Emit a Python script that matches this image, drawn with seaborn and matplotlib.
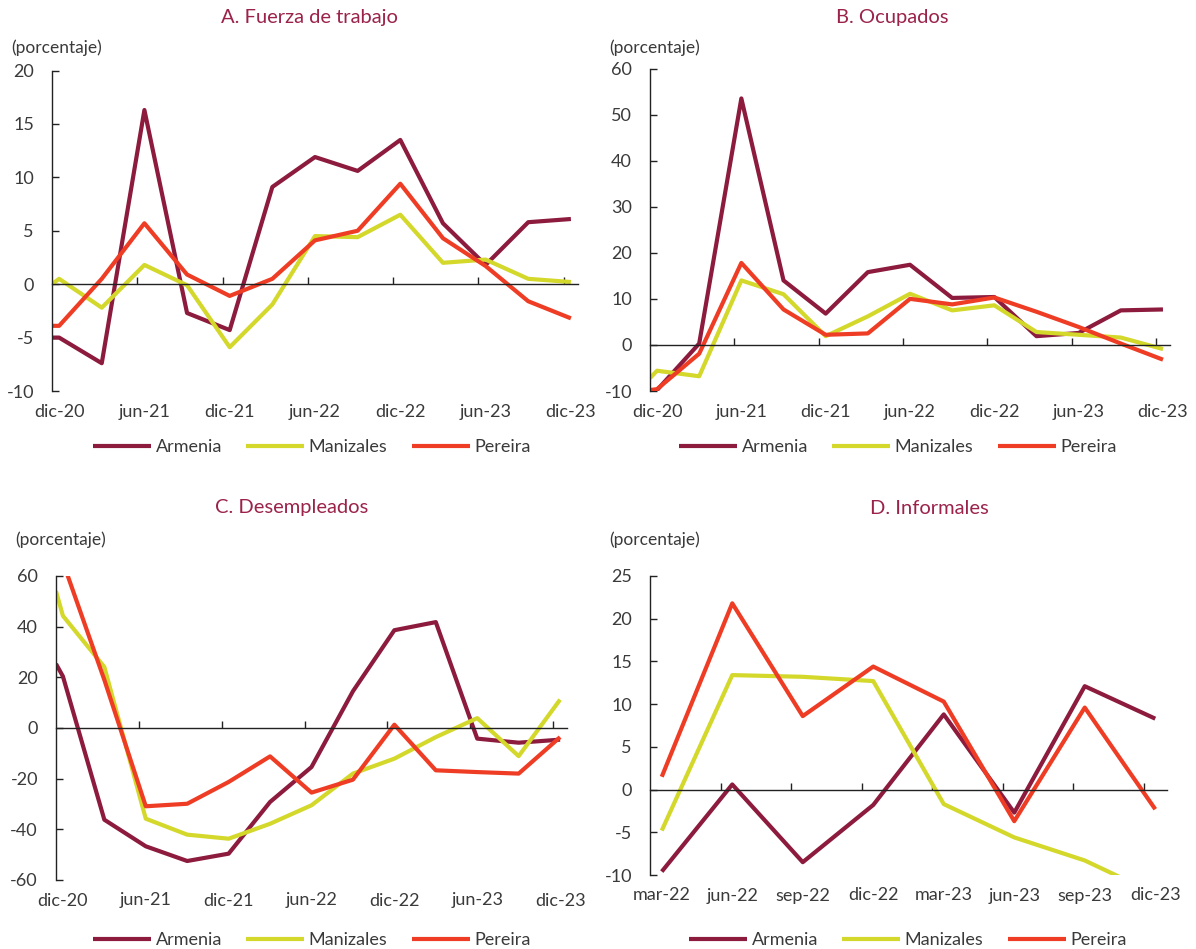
"""Variación anual de la fuerza laboral en el Eje Cafetero (cuatro paneles).
Run with: python plot.py
"""

import matplotlib
matplotlib.use("Agg")
import matplotlib.pyplot as plt
import pandas as pd
import seaborn as sns

# --- datos -------------------------------------------------------------
ciudades = ["Armenia", "Manizales", "Pereira"]
colores = {"Armenia": "#8c1b3e", "Manizales": "#d3d82b", "Pereira": "#ee3d24"}

# meses contados desde dic-20 (el primer punto arranca en el borde del eje)
meses_abc = [-0.5, 0, 3, 6, 9, 12, 15, 18, 21, 24, 27, 30, 33, 36]
etiquetas_abc = ["dic-20", "jun-21", "dic-21", "jun-22", "dic-22", "jun-23", "dic-23"]
pos_etiquetas_abc = [0, 6, 12, 18, 24, 30, 36]

# meses contados desde mar-22
meses_d = [0, 3, 6, 9, 12, 15, 18, 21]
etiquetas_d = ["mar-22", "jun-22", "sep-22", "dic-22", "mar-23", "jun-23", "sep-23", "dic-23"]
pos_etiquetas_d = [0, 3, 6, 9, 12, 15, 18, 21]

# A. Fuerza de trabajo
armenia_a = [-5.0, -5.0, -7.4, 16.3, -2.7, -4.3, 9.1, 11.9, 10.6, 13.5, 5.7, 1.8, 5.8, 6.1]
manizales_a = [0.0, 0.5, -2.2, 1.8, -0.1, -5.9, -1.9, 4.5, 4.4, 6.5, 2.0, 2.3, 0.5, 0.2]
pereira_a = [-3.9, -3.9, 0.5, 5.7, 0.9, -1.1, 0.5, 4.1, 5.0, 9.4, 4.3, 1.7, -1.6, -3.2]

# B. Ocupados
armenia_b = [-9.8, -9.8, 0.3, 53.5, 14.0, 6.8, 15.8, 17.4, 10.2, 10.4, 1.9, 2.6, 7.5, 7.7]
manizales_b = [-7.2, -5.6, -6.8, 14.0, 11.0, 1.9, 6.2, 11.1, 7.5, 8.6, 2.8, 2.2, 1.6, -0.9]
pereira_b = [-9.8, -9.6, -1.9, 17.8, 7.7, 2.2, 2.5, 10.0, 8.8, 10.3, 7.2, 3.9, 0.3, -3.2]

# C. Desempleados
armenia_c = [25.3, 20.4, -36.2, -46.7, -52.5, -49.6, -29.2, -15.4, 14.5, 38.6, 41.8, -4.2, -5.8, -4.6]
manizales_c = [54.0, 44.3, 24.1, -35.8, -42.1, -43.7, -37.8, -30.5, -18.0, -12.1, -3.6, 3.9, -11.1, 11.2]
pereira_c = [70.0, 65.5, 19.0, -30.9, -29.9, -21.3, -11.2, -25.5, -20.4, 1.3, -16.7, -17.4, -18.0, -3.6]

# D. Informales
armenia_d = [-9.6, 0.6, -8.5, -1.8, 8.8, -2.7, 12.1, 8.3]
manizales_d = [-4.8, 13.4, 13.2, 12.7, -1.7, -5.6, -8.3, -12.2]
pereira_d = [1.5, 21.8, 8.6, 14.4, 10.3, -3.7, 9.6, -2.3]

titulos = ["A. Fuerza de trabajo", "B. Ocupados", "C. Desempleados", "D. Informales"]


def tabla(meses, *series):
    filas = []
    for ciudad, valores in zip(ciudades, series):
        for m, v in zip(meses, valores):
            filas.append({"mes": m, "valor": v, "ciudad": ciudad})
    return pd.DataFrame(filas)


sns.set_theme(style="white")
plt.rcParams["font.family"] = ["Lato", "DejaVu Sans"]
plt.rcParams["axes.unicode_minus"] = False
GRIS = "#3a3a3a"
TITULO = "#9b2249"

W, H = 1196, 949
fig = plt.figure(figsize=(W / 100, H / 100), dpi=100)


def px(x0, y0, x1, y1):
    # caja en pixeles (arriba-izquierda) -> fracción de figura
    return [x0 / W, 1 - y1 / H, (x1 - x0) / W, (y1 - y0) / H]


paneles = [
    dict(caja=px(52, 70.5, 578, 391), df=tabla(meses_abc, armenia_a, manizales_a, pereira_a),
         ylim=(-10, 20), paso=5, xlim=(-0.5, 36.5), marcas=6,
         pos=pos_etiquetas_abc, etq=etiquetas_abc, titulo=(309, 17), unidad=(11, 48), leyenda=(312, 447)),
    dict(caja=px(650, 68.5, 1170, 391), df=tabla(meses_abc, armenia_b, manizales_b, pereira_b),
         ylim=(-10, 60), paso=10, xlim=(-0.5, 36.5), marcas=6,
         pos=pos_etiquetas_abc, etq=etiquetas_abc, titulo=(892, 17), unidad=(609, 48), leyenda=(898, 447)),
    dict(caja=px(56, 576, 567, 880), df=tabla(meses_abc, armenia_c, manizales_c, pereira_c),
         ylim=(-60, 60), paso=20, xlim=(-0.5, 36.5), marcas=6,
         pos=pos_etiquetas_abc, etq=etiquetas_abc, titulo=(292, 508), unidad=(15, 540), leyenda=(312, 940)),
    dict(caja=px(650, 576, 1167, 875), df=tabla(meses_d, armenia_d, manizales_d, pereira_d),
         ylim=(-10, 25), paso=5, xlim=(-0.5, 21.5), marcas=3,
         pos=pos_etiquetas_d, etq=etiquetas_d, titulo=(929, 508), unidad=(609, 540), leyenda=(908, 940)),
]

for p, titulo in zip(paneles, titulos):
    ax = fig.add_axes(p["caja"])
    sns.lineplot(data=p["df"], x="mes", y="valor", hue="ciudad", hue_order=ciudades,
                 palette=colores, linewidth=3, estimator=None, sort=False,
                 legend=False, ax=ax)
    for ln in ax.lines:
        ln.set_solid_joinstyle("round")
        ln.set_solid_capstyle("butt")

    ax.set_xlim(*p["xlim"])
    ax.set_ylim(*p["ylim"])
    lo, hi = p["ylim"]
    ax.set_yticks(range(lo, hi + 1, p["paso"]))
    ax.set_xticks([x + 0.5 for x in range(int(p["xlim"][0] - 0.5) + p["marcas"], int(p["xlim"][1]), p["marcas"])])
    ax.set_xlabel("")
    ax.set_ylabel("")
    ax.set_facecolor("none")

    for s in ["top", "right"]:
        ax.spines[s].set_visible(False)
    ax.spines["bottom"].set_position(("data", 0))
    for s in ["left", "bottom"]:
        ax.spines[s].set_color("#222222")
        ax.spines[s].set_linewidth(1.0)
    ax.tick_params(axis="x", direction="in", length=5, width=1, color="#222222",
                   labelbottom=False, bottom=True)
    ax.tick_params(axis="y", direction="in", length=5, width=1, color="#222222",
                   pad=13, labelsize=13, labelcolor=GRIS, left=True)

    # etiquetas de fecha en el borde inferior (el eje cruza en cero)
    sec = ax.secondary_xaxis("bottom")
    sec.set_xticks(p["pos"], p["etq"])
    sec.tick_params(length=0, pad=9, labelsize=13, labelcolor=GRIS)
    sec.spines["bottom"].set_visible(False)

    fig.text(p["titulo"][0] / W, 1 - p["titulo"][1] / H, titulo, ha="center", va="center",
             fontsize=14.5, color=TITULO)
    fig.text(p["unidad"][0] / W, 1 - p["unidad"][1] / H, "(porcentaje)", ha="left", va="center",
             fontsize=12.5, color=GRIS)

    leg = ax.legend(ax.lines[:3], ciudades, loc="center", ncol=3, frameon=False,
                    bbox_to_anchor=(p["leyenda"][0] / W, 1 - p["leyenda"][1] / H),
                    bbox_transform=fig.transFigure, fontsize=13, handlelength=3.2,
                    handletextpad=0.25, columnspacing=1.35)
    for t in leg.get_texts():
        t.set_color(GRIS)

fig.savefig("out.png", dpi=100)
